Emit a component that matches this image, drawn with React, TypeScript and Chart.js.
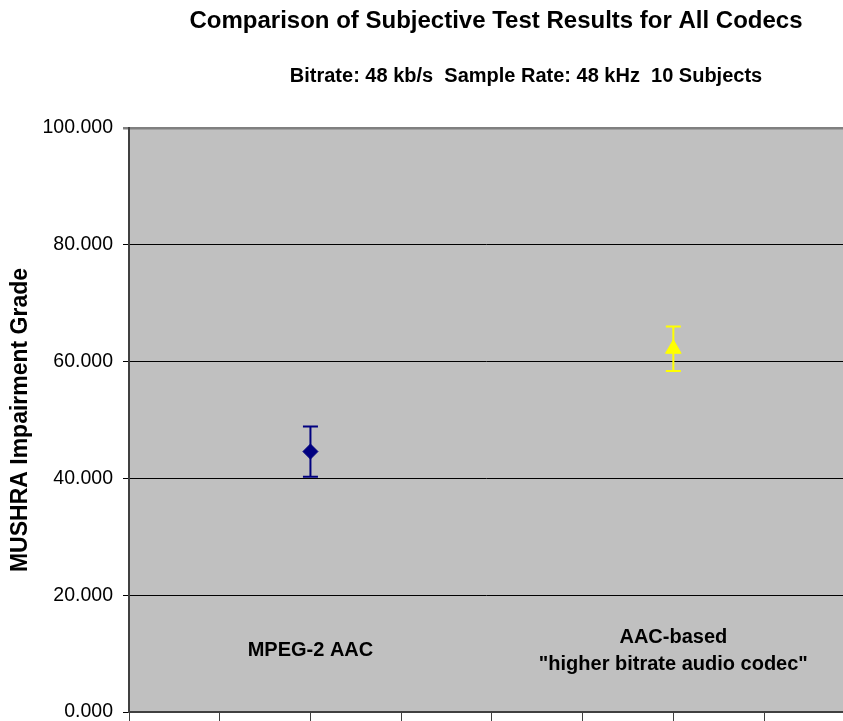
import React, { useEffect, useRef } from "react";
import { Chart, registerables } from "chart.js";

Chart.register(...registerables);

const TITLE = "Comparison of Subjective Test Results for All Codecs";
const SUBTITLE = "Bitrate: 48 kb/s  Sample Rate: 48 kHz  10 Subjects";
const Y_AXIS_TITLE = "MUSHRA Impairment Grade";

const SERIES_NAMES = ["MPEG-2 AAC", "AAC-based \"higher bitrate audio codec\""];
const CATEGORY_LABEL_LINES = [["MPEG-2 AAC"], ["AAC-based", "\"higher bitrate audio codec\""]];
const X_POSITIONS = [2, 6];
const MEANS = [44.6, 62.2];
const CONF = [4.3, 3.8];
const COLORS = ["#000080", "#FFFF00"];
const POINT_STYLES = ["rectRot", "triangle"];
const POINT_RADII = [7.5, 9];
const LABEL_Y_VALUE = 10.5;

const X_MIN = 0;
const X_MAX = 7.87;
const Y_MIN = 0;
const Y_MAX = 100;
const Y_STEP = 20;

const FONT = "Arial, 'Liberation Sans', Helvetica, sans-serif";

const plotBg = {
  id: "plotBg",
  beforeDraw(chart: any) {
    const { ctx, chartArea } = chart;
    ctx.save();
    ctx.fillStyle = "#C0C0C0";
    ctx.fillRect(chartArea.left, chartArea.top, chartArea.right - chartArea.left, chartArea.bottom - chartArea.top);
    ctx.restore();
  },
};

const errorBars = {
  id: "errorBars",
  beforeDatasetsDraw(chart: any) {
    const { ctx } = chart;
    const xs = chart.scales.x;
    const ys = chart.scales.y;
    ctx.save();
    MEANS.forEach((m, i) => {
      const px = xs.getPixelForValue(X_POSITIONS[i]);
      const top = ys.getPixelForValue(m + CONF[i]);
      const bot = ys.getPixelForValue(m - CONF[i]);
      ctx.strokeStyle = COLORS[i];
      ctx.lineWidth = 2;
      ctx.beginPath();
      ctx.moveTo(px, top);
      ctx.lineTo(px, bot);
      ctx.moveTo(px - 7.5, top);
      ctx.lineTo(px + 7.5, top);
      ctx.moveTo(px - 7.5, bot);
      ctx.lineTo(px + 7.5, bot);
      ctx.stroke();
    });
    ctx.restore();
  },
};

const textLayer = {
  id: "textLayer",
  afterDraw(chart: any) {
    const { ctx } = chart;
    const xs = chart.scales.x;
    const ys = chart.scales.y;
    ctx.save();
    ctx.fillStyle = "#000";
    ctx.textAlign = "center";
    ctx.textBaseline = "middle";
    ctx.font = `bold 24px ${FONT}`;
    ctx.fillText(TITLE, 496, 21);
    ctx.font = `bold 20px ${FONT}`;
    ctx.fillText(SUBTITLE, 526, 76);
    ctx.font = `bold 20px ${FONT}`;
    CATEGORY_LABEL_LINES.forEach((lines, i) => {
      const px = xs.getPixelForValue(X_POSITIONS[i]);
      const py = ys.getPixelForValue(LABEL_Y_VALUE);
      const lh = 27;
      const start = py - ((lines.length - 1) * lh) / 2;
      lines.forEach((ln, j) => ctx.fillText(ln, px, start + j * lh));
    });
    ctx.restore();
  },
};

export default function App() {
  const ref = useRef<HTMLCanvasElement | null>(null);
  useEffect(() => {
    document.body.style.margin = "0";
    const canvas = ref.current;
    if (!canvas) return;
    const chart = new Chart(canvas, {
      type: "scatter",
      data: {
        datasets: MEANS.map((m, i) => ({
          label: SERIES_NAMES[i],
          data: [{ x: X_POSITIONS[i], y: m }],
          pointStyle: POINT_STYLES[i] as any,
          pointRadius: POINT_RADII[i],
          backgroundColor: COLORS[i],
          borderColor: COLORS[i],
          borderWidth: 1,
          showLine: false,
        })),
      },
      options: {
        animation: false,
        responsive: false,
        devicePixelRatio: 1,
        layout: { autoPadding: false, padding: { top: 128, left: 0, right: 0, bottom: 0 } },
        plugins: {
          legend: { display: false },
          tooltip: { enabled: false },
          title: { display: false },
        },
        scales: {
          x: {
            type: "linear",
            min: X_MIN,
            max: X_MAX,
            afterFit(scale: any) {
              scale.height = 9;
              scale.paddingLeft = 0;
              scale.paddingRight = 0;
              scale.paddingTop = 0;
              scale.paddingBottom = 0;
            },
            ticks: {
              stepSize: 1,
              callback: () => "",
              font: { size: 1 },
            },
            grid: {
              drawOnChartArea: false,
              drawTicks: true,
              tickLength: 9,
              color: "#404040",
              lineWidth: 1,
            },
            border: { display: true, color: "#404040", width: 2 },
          },
          y: {
            type: "linear",
            min: Y_MIN,
            max: Y_MAX,
            afterFit(scale: any) {
              scale.width = 129;
              scale.paddingTop = 0;
              scale.paddingBottom = 0;
              scale.paddingLeft = 0;
              scale.paddingRight = 0;
            },
            ticks: {
              stepSize: Y_STEP,
              padding: 10,
              color: "#000",
              font: { family: FONT, size: 19.5 },
              callback: (v: any) => Number(v).toFixed(3),
            },
            grid: {
              color: (c: any) => (c.tick && c.tick.value === Y_MAX ? "#808080" : "#000000"),
              lineWidth: (c: any) => (c.tick && c.tick.value === Y_MAX ? 2.5 : 1),
              tickLength: 6,
              drawTicks: true,
            },
            border: { display: true, color: "#404040", width: 2 },
            title: {
              display: true,
              text: Y_AXIS_TITLE,
              color: "#000",
              font: { family: FONT, size: 23, weight: "bold" },
              padding: { top: 7, bottom: 4 },
            },
          },
        },
      },
      plugins: [plotBg, errorBars, textLayer],
    });
    return () => chart.destroy();
  }, []);
  return (
    <div style={{ width: 843, height: 721, overflow: "hidden", background: "#fff" }}>
      <canvas ref={ref} width={843} height={721} style={{ display: "block" }} />
    </div>
  );
}
